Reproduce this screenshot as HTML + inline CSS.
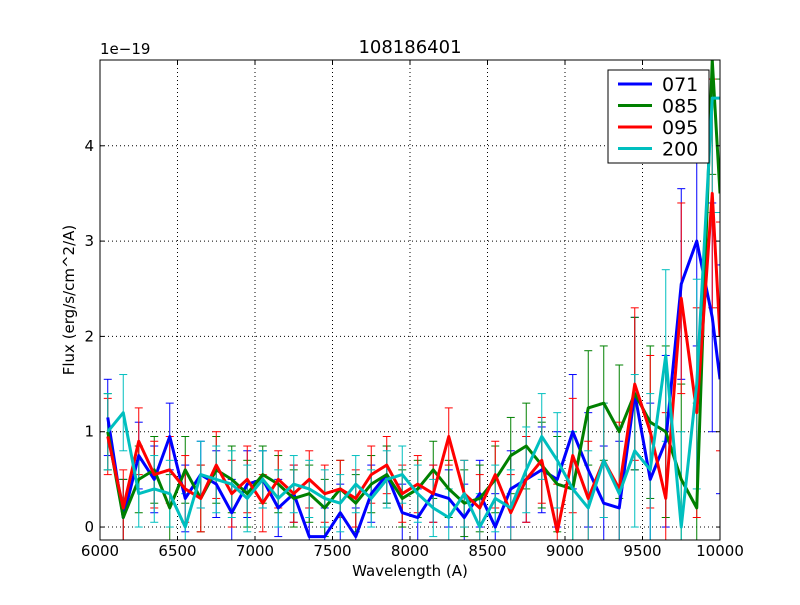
<!DOCTYPE html>
<html><head><meta charset="utf-8"><style>
body{margin:0;background:#fff;font-family:"Liberation Sans","DejaVu Sans",sans-serif}
svg text{font-family:"DejaVu Sans","Liberation Sans",sans-serif}
</style></head><body>
<svg id="chart" width="800" height="600" xmlns="http://www.w3.org/2000/svg">
<rect width="800" height="600" fill="#fff"/>
<g id="grid"></g><g id="marks"></g><g id="axes"></g>
</svg>
<script>
const wavelengths=[6050,6150,6250,6350,6450,6550,6650,6750,6850,6950,7050,7150,7250,7350,7450,7550,7650,7750,7850,7950,8050,8150,8250,8350,8450,8550,8650,8750,8850,8950,9050,9150,9250,9350,9450,9550,9650,9750,9850,9950,10000];
const s071=[1.15,0.1,0.75,0.5,0.95,0.3,0.55,0.45,0.15,0.45,0.5,0.2,0.35,-0.1,-0.1,0.15,-0.1,0.35,0.55,0.15,0.1,0.35,0.3,0.1,0.35,0.0,0.4,0.5,0.6,0.5,1.0,0.6,0.25,0.2,1.4,0.5,0.9,2.55,3.0,2.2,1.55];
const s085=[1.0,0.1,0.5,0.6,0.2,0.6,0.3,0.6,0.5,0.35,0.55,0.45,0.3,0.35,0.2,0.4,0.25,0.45,0.55,0.3,0.4,0.6,0.4,0.25,0.3,0.5,0.75,0.85,0.65,0.45,0.4,1.25,1.3,1.0,1.4,1.1,1.0,0.5,0.2,4.9,3.5];
const s095=[0.95,0.2,0.9,0.55,0.6,0.4,0.3,0.65,0.35,0.5,0.25,0.5,0.35,0.5,0.35,0.4,0.3,0.55,0.65,0.35,0.45,0.35,0.95,0.35,0.2,0.55,0.15,0.5,0.7,-0.05,0.75,0.3,0.7,0.4,1.5,1.0,0.3,2.4,1.2,3.5,2.0];
const s200=[1.0,1.2,0.35,0.4,0.35,0.0,0.55,0.5,0.45,0.3,0.5,0.3,0.45,0.4,0.3,0.25,0.45,0.3,0.5,0.55,0.35,0.2,0.1,0.35,0.0,0.3,0.2,0.6,0.95,0.7,0.4,0.2,0.7,0.35,0.8,0.6,1.8,0.0,1.5,4.5,4.5];
const errs=[0.4,0.4,0.35,0.35,0.35,0.35,0.35,0.35,0.35,0.35,0.3,0.3,0.3,0.3,0.3,0.3,0.3,0.3,0.3,0.3,0.3,0.3,0.3,0.35,0.35,0.35,0.4,0.45,0.45,0.5,0.6,0.6,0.6,0.7,0.8,0.8,0.9,1.0,1.1,1.2,1.2];
const xTicks=[6000,6500,7000,7500,8000,8500,9000,9500,10000];
const yTicks=[0,1,2,3,4];
const seriesNames=["071","085","095","200"];
const seriesColors=["#0000ff","#008000","#ff0000","#00bfbf"];
const seriesData=[s071,s085,s095,s200];

const L=100,R=720,T=60,B=540,xmin=6000,xmax=10000,ymin=-0.136,ymax=4.9;
const X=v=>L+(v-xmin)/(xmax-xmin)*(R-L);
const Y=v=>B-(v-ymin)/(ymax-ymin)*(B-T);
const NS="http://www.w3.org/2000/svg";
function mk(p,t,a){const e=document.createElementNS(NS,t);for(const k in a)e.setAttribute(k,a[k]);p.appendChild(e);return e;}
const grid=document.getElementById('grid'),marks=document.getElementById('marks'),axes=document.getElementById('axes');
const clip=mk(document.getElementById('chart'),'clipPath',{id:'pc'});mk(clip,'rect',{x:L,y:T,width:R-L,height:B-T});
marks.setAttribute('clip-path','url(#pc)');
xTicks.forEach(t=>{const g=mk(grid,'line',{x1:X(t),x2:X(t),y1:T,y2:B,stroke:'#000','stroke-dasharray':'1,3','stroke-width':1});

mk(axes,'line',{x1:X(t),x2:X(t),y1:B,y2:B-4,stroke:'#000'});mk(axes,'line',{x1:X(t),x2:X(t),y1:T,y2:T+4,stroke:'#000'});
const l=mk(axes,'text',{x:X(t),y:B+16,'text-anchor':'middle','font-size':15});l.textContent=t;
});
yTicks.forEach(t=>{const g=mk(grid,'line',{x1:L,x2:R,y1:Y(t),y2:Y(t),stroke:'#000','stroke-dasharray':'1,3','stroke-width':1});

mk(axes,'line',{x1:L,x2:L+4,y1:Y(t),y2:Y(t),stroke:'#000'});mk(axes,'line',{x1:R,x2:R-4,y1:Y(t),y2:Y(t),stroke:'#000'});
const l=mk(axes,'text',{x:L-6,y:Y(t)+5,'text-anchor':'end','font-size':15});l.textContent=t;
});
seriesData.forEach((d,si)=>{const c=seriesColors[si];
d.forEach((v,i)=>{const x=X(wavelengths[i]),e=errs[i];
const eb=mk(marks,'line',{x1:x,x2:x,y1:Y(v-e),y2:Y(v+e),stroke:c,'stroke-width':1});

mk(marks,'line',{x1:x-4,x2:x+4,y1:Y(v-e),y2:Y(v-e),stroke:c});mk(marks,'line',{x1:x-4,x2:x+4,y1:Y(v+e),y2:Y(v+e),stroke:c});});});
seriesData.forEach((d,si)=>{const p=mk(marks,'polyline',{points:d.map((v,i)=>X(wavelengths[i])+','+Y(v)).join(' '),fill:'none',stroke:seriesColors[si],'stroke-width':3,'stroke-linejoin':'round'});
});
const fr=mk(axes,'rect',{x:L,y:T,width:R-L,height:B-T,fill:'none',stroke:'#000'});

let t=mk(axes,'text',{x:410,y:53,'text-anchor':'middle','font-size':18});t.textContent='108186401';

t=mk(axes,'text',{x:100,y:54,'font-size':15});t.textContent='1e\u221219';

t=mk(axes,'text',{x:410,y:576,'text-anchor':'middle','font-size':15});t.textContent='Wavelength (A)';

t=mk(axes,'text',{x:74,y:300,'text-anchor':'middle','font-size':15,transform:'rotate(-90 74 300)'});t.textContent='Flux (erg/s/cm^2/A)';

const lg=mk(axes,'g',{});
mk(lg,'rect',{x:608,y:70,width:101,height:93,fill:'#fff',stroke:'#000'});
seriesNames.forEach((n,i)=>{const y=84+i*21.5;
const e=mk(lg,'g',{});
mk(e,'line',{x1:618,x2:652,y1:y,y2:y,stroke:seriesColors[i],'stroke-width':3});
const tx=mk(e,'text',{x:662,y:y+7,'font-size':19});tx.textContent=n;});
</script>
</body></html>
